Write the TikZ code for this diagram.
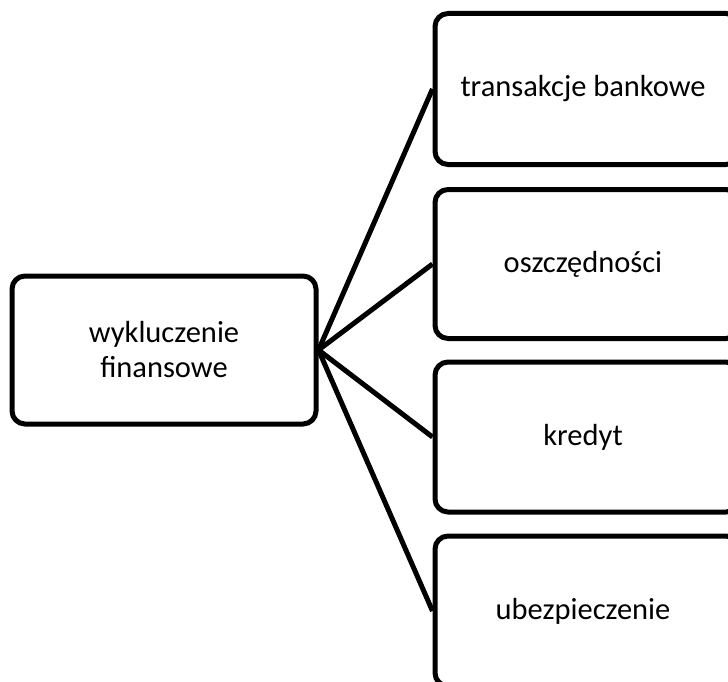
\documentclass[tikz,border=0pt]{standalone}
\usepackage{fontspec}
\setmainfont{Carlito}
\begin{document}
\begin{tikzpicture}[x=1pt,y=-1pt,
  box/.style={draw=black, line width=5pt, rounded corners=13pt, fill=white,
    rectangle, inner sep=0pt, align=center,
    font=\fontsize{30.5}{35}\selectfont},
  link/.style={draw=black, line width=5pt}]
\useasboundingbox (0,0) rectangle (728,682);
\node[box, minimum width=304pt, minimum height=148pt] (L) at (164,350) {wykluczenie\\finansowe};
\node[box, minimum width=304pt, minimum height=151pt] (R1) at (587,89) {\hspace*{-8pt}transakcje bankowe};
\node[box, minimum width=304pt, minimum height=149pt] (R2) at (587,264) {\hspace*{-8pt}oszczędności};
\node[box, minimum width=304pt, minimum height=150pt] (R3) at (587,437) {\hspace*{-8pt}kredyt};
\node[box, minimum width=304pt, minimum height=150pt] (R4) at (587,611) {\hspace*{-8pt}ubezpieczenie};
\foreach \r in {R1,R2,R3,R4} \draw[link] (L.east) -- (\r.west);
\end{tikzpicture}
\end{document}
